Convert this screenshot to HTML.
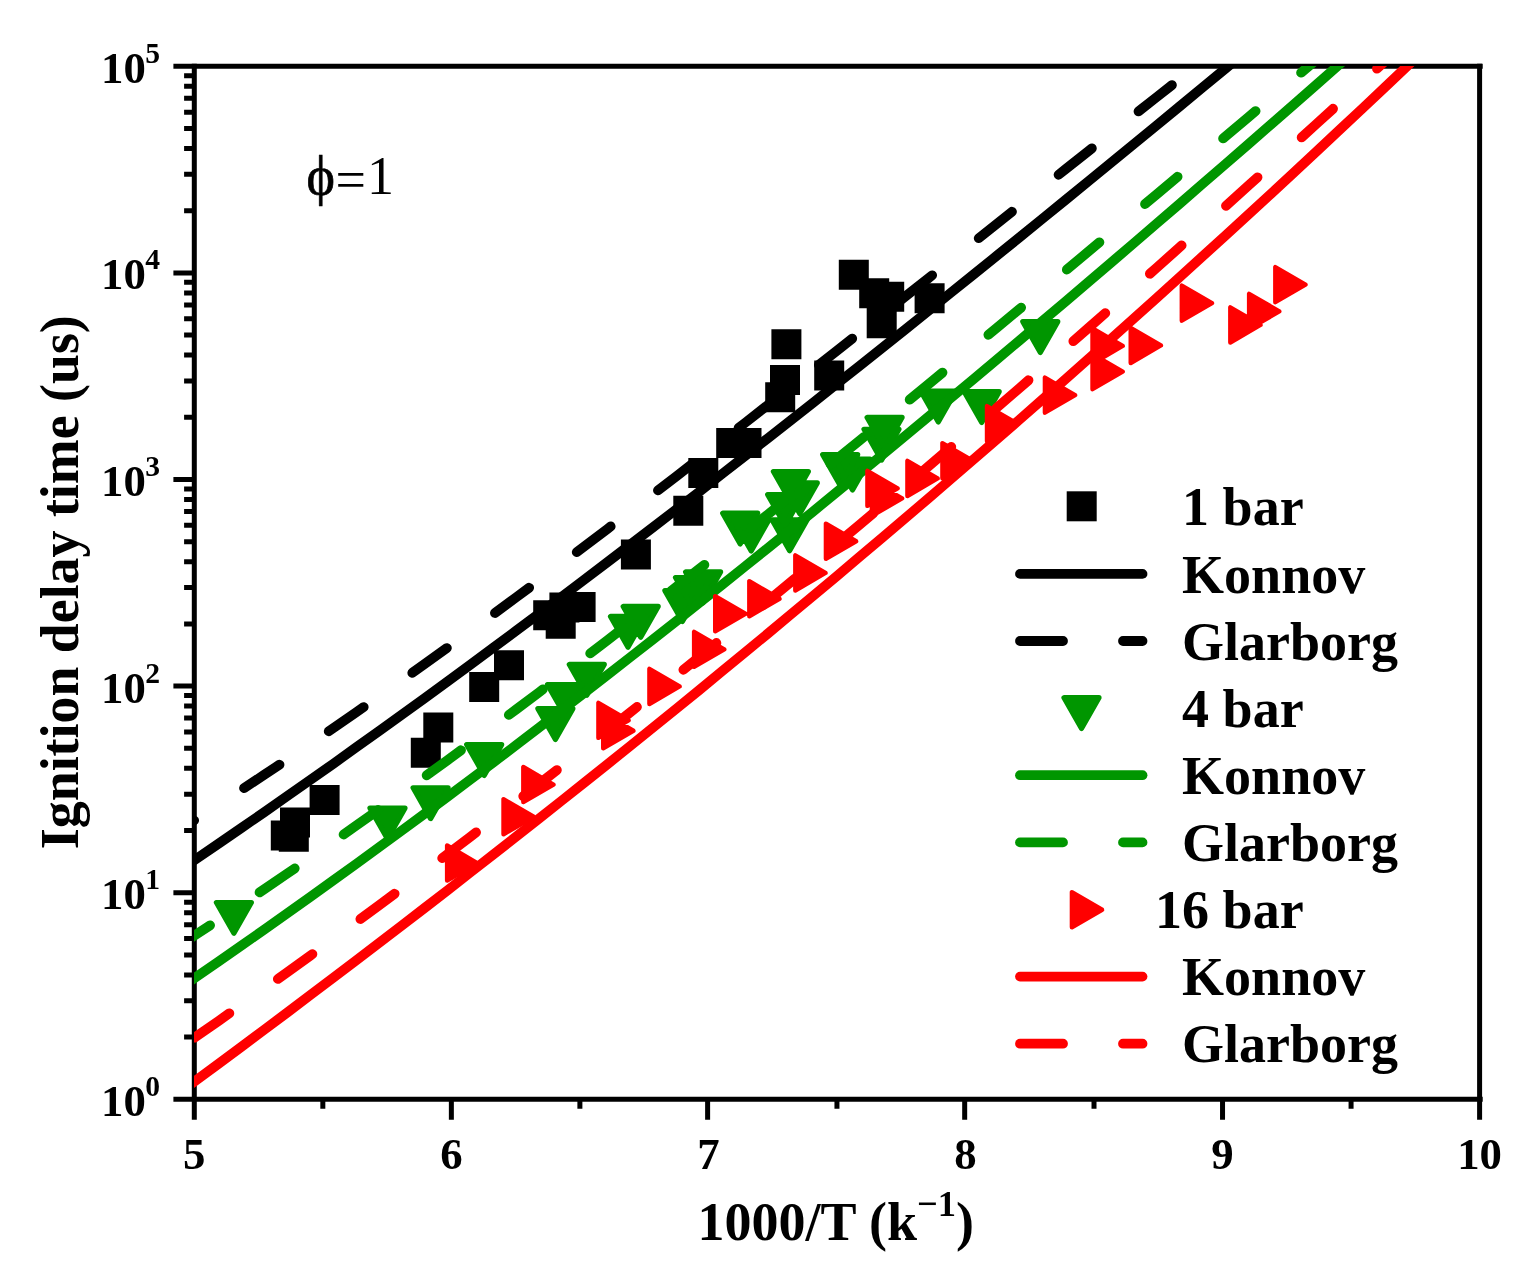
<!DOCTYPE html>
<html><head><meta charset="utf-8"><title>Ignition delay time</title>
<style>html,body{margin:0;padding:0;background:#fff}svg{display:block}</style></head>
<body>
<svg width="1532" height="1279" viewBox="0 0 1532 1279" font-family="'Liberation Serif', serif">
<rect width="1532" height="1279" fill="#fff"/>
<defs><clipPath id="cp"><rect x="194.0" y="66.0" width="1285.6" height="1033.3"/></clipPath></defs>
<g stroke="#000" stroke-width="5" fill="none" stroke-linecap="butt">
<path d="M173.4 66.3H1482.6999999999998"/>
<path d="M173.4 1099.3H1482.6999999999998"/>
<path d="M194.3 63.8V1119.8"/>
<path d="M1479.6 63.8V1119.8"/>
<path d="M451.36 1099.3v20.5M707.62 1099.3v20.5M964.68 1099.3v20.5M1222.54 1099.3v20.5M322.83 1099.3v9.4M579.89 1099.3v9.4M836.95 1099.3v9.4M1094.01 1099.3v9.4M1351.07 1099.3v9.4"/>
<path d="M194.3 1037.11h-10.2M194.3 1000.73h-10.2M194.3 974.91h-10.2M194.3 954.89h-10.2M194.3 938.53h-10.2M194.3 924.70h-10.2M194.3 912.72h-10.2M194.3 902.15h-10.2M194.3 892.70h-20.9M194.3 830.51h-10.2M194.3 794.13h-10.2M194.3 768.31h-10.2M194.3 748.29h-10.2M194.3 731.93h-10.2M194.3 718.10h-10.2M194.3 706.12h-10.2M194.3 695.55h-10.2M194.3 686.10h-20.9M194.3 623.91h-10.2M194.3 587.53h-10.2M194.3 561.71h-10.2M194.3 541.69h-10.2M194.3 525.33h-10.2M194.3 511.50h-10.2M194.3 499.52h-10.2M194.3 488.95h-10.2M194.3 479.50h-20.9M194.3 417.31h-10.2M194.3 380.93h-10.2M194.3 355.11h-10.2M194.3 335.09h-10.2M194.3 318.73h-10.2M194.3 304.90h-10.2M194.3 292.92h-10.2M194.3 282.35h-10.2M194.3 272.90h-20.9M194.3 210.71h-10.2M194.3 174.33h-10.2M194.3 148.51h-10.2M194.3 128.49h-10.2M194.3 112.13h-10.2M194.3 98.30h-10.2M194.3 86.32h-10.2M194.3 75.75h-10.2"/>
</g>
<g clip-path="url(#cp)">
<path d="M270.8 820.4h30v30h-30zM280.0 807.5h30v30h-30zM278.8 821.7h30v30h-30zM309.6 785.0h30v30h-30zM410.8 737.8h30v30h-30zM423.3 712.5h30v30h-30zM469.2 672.0h30v30h-30zM494.0 650.3h30v30h-30zM533.2 600.3h30v30h-30zM545.7 608.7h30v30h-30zM549.4 592.4h30v30h-30zM565.6 592.0h30v30h-30zM620.9 539.5h30v30h-30zM673.3 495.8h30v30h-30zM688.3 458.0h30v30h-30zM716.2 428.0h30v30h-30zM731.5 428.0h30v30h-30zM765.2 382.3h30v30h-30zM770.0 365.0h30v30h-30zM771.4 329.2h30v30h-30zM814.2 360.4h30v30h-30zM838.8 259.7h30v30h-30zM859.2 278.3h30v30h-30zM874.2 281.7h30v30h-30zM866.7 308.3h30v30h-30zM914.6 283.2h30v30h-30z" fill="#000"/>
<path d="M150.0 890.0 L172.9 874.7 L195.8 859.2 L218.6 843.6 L241.5 827.9 L264.4 812.1 L287.3 796.1 L310.2 780.1 L333.1 763.9 L355.9 747.6 L378.8 731.3 L401.7 714.8 L424.6 698.2 L447.5 681.5 L470.3 664.7 L493.2 647.8 L516.1 630.8 L539.0 613.7 L561.9 596.6 L584.7 579.3 L607.6 562.0 L630.5 544.5 L653.4 527.0 L676.3 509.4 L699.2 491.8 L722.0 474.0 L744.9 456.2 L767.8 438.3 L790.7 420.3 L813.6 402.3 L836.4 384.2 L859.3 366.1 L882.2 347.8 L905.1 329.6 L928.0 311.2 L950.8 292.8 L973.7 274.4 L996.6 255.9 L1019.5 237.4 L1042.4 218.8 L1065.3 200.1 L1088.1 181.5 L1111.0 162.7 L1133.9 144.0 L1156.8 125.2 L1179.7 106.4 L1202.5 87.5 L1225.4 68.6 L1248.3 49.7 L1271.2 30.8 L1294.1 11.8 L1316.9 -7.1 L1339.8 -26.1 L1362.7 -45.2 L1385.6 -64.2 L1408.5 -83.2 L1431.4 -102.3 L1454.2 -121.3 L1477.1 -140.4 L1500.0 -159.5" stroke="#000" stroke-width="9.8" fill="none" stroke-linecap="round" stroke-linejoin="round"/>
<path d="M150.0 848.2 L172.9 833.9 L195.8 819.4 L218.6 804.7 L241.5 789.8 L264.4 774.7 L287.3 759.5 L310.2 744.0 L333.1 728.3 L355.9 712.5 L378.8 696.5 L401.7 680.4 L424.6 664.1 L447.5 647.6 L470.3 631.0 L493.2 614.3 L516.1 597.4 L539.0 580.4 L561.9 563.3 L584.7 546.1 L607.6 528.8 L630.5 511.4 L653.4 493.9 L676.3 476.3 L699.2 458.6 L722.0 440.8 L744.9 423.0 L767.8 405.1 L790.7 387.1 L813.6 369.1 L836.4 351.1 L859.3 333.0 L882.2 314.9 L905.1 296.7 L928.0 278.6 L950.8 260.4 L973.7 242.2 L996.6 224.0 L1019.5 205.8 L1042.4 187.6 L1065.3 169.4 L1088.1 151.3 L1111.0 133.2 L1133.9 115.1 L1156.8 97.0 L1179.7 79.0 L1202.5 61.1 L1225.4 43.2 L1248.3 25.3 L1271.2 7.6 L1294.1 -10.1 L1316.9 -27.7 L1339.8 -45.2 L1362.7 -62.7 L1385.6 -80.0 L1408.5 -97.2 L1431.4 -114.3 L1454.2 -131.3 L1477.1 -148.2 L1500.0 -164.9" stroke="#000" stroke-width="9.8" fill="none" stroke-linecap="round" stroke-linejoin="round" stroke-dasharray="42.5 59.5" stroke-dashoffset="92.4"/>
<path d="M216.4 902.5h35.0l-17.5 30.8zM370.0 808.1h35.0l-17.5 30.8zM413.1 787.8h35.0l-17.5 30.8zM466.7 744.6h35.0l-17.5 30.8zM537.9 708.6h35.0l-17.5 30.8zM547.5 684.6h35.0l-17.5 30.8zM569.3 664.4h35.0l-17.5 30.8zM610.5 616.4h35.0l-17.5 30.8zM623.2 606.4h35.0l-17.5 30.8zM664.9 590.6h35.0l-17.5 30.8zM675.5 577.5h35.0l-17.5 30.8zM685.6 571.9h35.0l-17.5 30.8zM722.7 513.2h35.0l-17.5 30.8zM733.7 520.1h35.0l-17.5 30.8zM767.7 494.6h35.0l-17.5 30.8zM773.4 471.5h35.0l-17.5 30.8zM782.3 482.9h35.0l-17.5 30.8zM772.1 519.9h35.0l-17.5 30.8zM822.7 454.6h35.0l-17.5 30.8zM835.0 459.1h35.0l-17.5 30.8zM867.1 417.4h35.0l-17.5 30.8zM864.0 429.3h35.0l-17.5 30.8zM920.8 391.1h35.0l-17.5 30.8zM964.2 391.6h35.0l-17.5 30.8zM1022.8 321.6h35.0l-17.5 30.8z" fill="#009600" stroke="#009600" stroke-width="5.2" stroke-linejoin="round"/>
<path d="M150.0 1008.5 L172.9 992.9 L195.8 977.3 L218.6 961.5 L241.5 945.5 L264.4 929.5 L287.3 913.3 L310.2 897.0 L333.1 880.6 L355.9 864.1 L378.8 847.4 L401.7 830.6 L424.6 813.8 L447.5 796.8 L470.3 779.7 L493.2 762.5 L516.1 745.2 L539.0 727.7 L561.9 710.2 L584.7 692.6 L607.6 674.9 L630.5 657.0 L653.4 639.1 L676.3 621.1 L699.2 603.0 L722.0 584.8 L744.9 566.5 L767.8 548.1 L790.7 529.6 L813.6 511.1 L836.4 492.4 L859.3 473.7 L882.2 454.9 L905.1 436.0 L928.0 417.0 L950.8 398.0 L973.7 378.9 L996.6 359.7 L1019.5 340.4 L1042.4 321.1 L1065.3 301.7 L1088.1 282.2 L1111.0 262.7 L1133.9 243.1 L1156.8 223.4 L1179.7 203.7 L1202.5 183.9 L1225.4 164.1 L1248.3 144.2 L1271.2 124.3 L1294.1 104.3 L1316.9 84.2 L1339.8 64.1 L1362.7 44.0 L1385.6 23.8 L1408.5 3.6 L1431.4 -16.7 L1454.2 -37.0 L1477.1 -57.4 L1500.0 -77.8" stroke="#009600" stroke-width="9.8" fill="none" stroke-linecap="round" stroke-linejoin="round"/>
<path d="M150.0 964.3 L172.9 949.6 L195.8 934.7 L218.6 919.7 L241.5 904.5 L264.4 889.1 L287.3 873.5 L310.2 857.8 L333.1 841.9 L355.9 825.8 L378.8 809.6 L401.7 793.3 L424.6 776.8 L447.5 760.2 L470.3 743.4 L493.2 726.5 L516.1 709.5 L539.0 692.3 L561.9 675.0 L584.7 657.6 L607.6 640.1 L630.5 622.4 L653.4 604.7 L676.3 586.9 L699.2 568.9 L722.0 550.9 L744.9 532.7 L767.8 514.5 L790.7 496.2 L813.6 477.8 L836.4 459.3 L859.3 440.7 L882.2 422.1 L905.1 403.4 L928.0 384.6 L950.8 365.8 L973.7 346.9 L996.6 328.0 L1019.5 309.0 L1042.4 290.0 L1065.3 270.9 L1088.1 251.8 L1111.0 232.6 L1133.9 213.4 L1156.8 194.2 L1179.7 175.0 L1202.5 155.7 L1225.4 136.5 L1248.3 117.2 L1271.2 97.9 L1294.1 78.6 L1316.9 59.3 L1339.8 40.0 L1362.7 20.7 L1385.6 1.4 L1408.5 -17.9 L1431.4 -37.2 L1454.2 -56.4 L1477.1 -75.6 L1500.0 -94.8" stroke="#009600" stroke-width="9.8" fill="none" stroke-linecap="round" stroke-linejoin="round" stroke-dasharray="42.5 59.5" stroke-dashoffset="72.9"/>
<path d="M1275.3 267.1v35.1l30.2 -17.55zM1249.1 293.8v35.1l30.2 -17.55zM1230.3 307.4v35.1l30.2 -17.55zM1181.8 285.6v35.1l30.2 -17.55zM1130.7 327.9v35.1l30.2 -17.55zM1092.5 328.4v35.1l30.2 -17.55zM1092.5 354.1v35.1l30.2 -17.55zM1044.9 377.6v35.1l30.2 -17.55zM987.0 406.1v35.1l30.2 -17.55zM942.4 443.2v35.1l30.2 -17.55zM907.4 460.9v35.1l30.2 -17.55zM867.4 470.8v35.1l30.2 -17.55zM871.9 480.8v35.1l30.2 -17.55zM825.9 523.7v35.1l30.2 -17.55zM795.3 555.4v35.1l30.2 -17.55zM749.3 581.2v35.1l30.2 -17.55zM715.2 596.2v35.1l30.2 -17.55zM694.1 631.8v35.1l30.2 -17.55zM649.4 668.9v35.1l30.2 -17.55zM598.4 702.8v35.1l30.2 -17.55zM603.2 713.2v35.1l30.2 -17.55zM523.3 767.0v35.1l30.2 -17.55zM503.5 799.2v35.1l30.2 -17.55zM447.1 845.5v35.1l30.2 -17.55z" fill="#ff0000" stroke="#ff0000" stroke-width="4.4" stroke-linejoin="round"/>
<path d="M150.0 1114.2 L172.9 1097.4 L195.8 1080.6 L218.6 1063.7 L241.5 1046.7 L264.4 1029.6 L287.3 1012.5 L310.2 995.2 L333.1 977.9 L355.9 960.6 L378.8 943.1 L401.7 925.6 L424.6 908.0 L447.5 890.3 L470.3 872.5 L493.2 854.6 L516.1 836.7 L539.0 818.6 L561.9 800.5 L584.7 782.3 L607.6 764.1 L630.5 745.7 L653.4 727.2 L676.3 708.7 L699.2 690.1 L722.0 671.3 L744.9 652.5 L767.8 633.6 L790.7 614.6 L813.6 595.6 L836.4 576.4 L859.3 557.1 L882.2 537.7 L905.1 518.3 L928.0 498.7 L950.8 479.1 L973.7 459.3 L996.6 439.5 L1019.5 419.6 L1042.4 399.5 L1065.3 379.4 L1088.1 359.1 L1111.0 338.8 L1133.9 318.4 L1156.8 297.8 L1179.7 277.2 L1202.5 256.4 L1225.4 235.6 L1248.3 214.6 L1271.2 193.6 L1294.1 172.4 L1316.9 151.1 L1339.8 129.7 L1362.7 108.2 L1385.6 86.6 L1408.5 64.9 L1431.4 43.1 L1454.2 21.2 L1477.1 -0.9 L1500.0 -23.0" stroke="#ff0000" stroke-width="9.8" fill="none" stroke-linecap="round" stroke-linejoin="round"/>
<path d="M150.0 1068.3 L172.9 1052.6 L195.8 1036.8 L218.6 1020.9 L241.5 1004.8 L264.4 988.5 L287.3 972.2 L310.2 955.7 L333.1 939.1 L355.9 922.3 L378.8 905.5 L401.7 888.5 L424.6 871.4 L447.5 854.1 L470.3 836.8 L493.2 819.3 L516.1 801.7 L539.0 784.0 L561.9 766.2 L584.7 748.3 L607.6 730.3 L630.5 712.1 L653.4 693.9 L676.3 675.5 L699.2 657.0 L722.0 638.4 L744.9 619.8 L767.8 601.0 L790.7 582.1 L813.6 563.1 L836.4 544.1 L859.3 524.9 L882.2 505.6 L905.1 486.3 L928.0 466.8 L950.8 447.3 L973.7 427.7 L996.6 407.9 L1019.5 388.1 L1042.4 368.2 L1065.3 348.3 L1088.1 328.2 L1111.0 308.1 L1133.9 287.9 L1156.8 267.6 L1179.7 247.2 L1202.5 226.8 L1225.4 206.3 L1248.3 185.7 L1271.2 165.0 L1294.1 144.3 L1316.9 123.5 L1339.8 102.6 L1362.7 81.7 L1385.6 60.7 L1408.5 39.7 L1431.4 18.5 L1454.2 -2.6 L1477.1 -23.9 L1500.0 -45.2" stroke="#ff0000" stroke-width="9.8" fill="none" stroke-linecap="round" stroke-linejoin="round" stroke-dasharray="42.5 59.5" stroke-dashoffset="48.0"/>
</g>
<rect x="1066.7" y="491.3" width="30" height="30" fill="#000"/>
<text x="1182.1" y="525.4" font-size="54" font-weight="bold">1 bar</text>
<path d="M1020 573.9H1142.5" stroke="#000" stroke-width="9.8" stroke-linecap="round"/>
<text x="1182.1" y="592.5" font-size="54" font-weight="bold">Konnov</text>
<path d="M1020 641.0H1142.5" stroke="#000" stroke-width="9.8" stroke-linecap="round" stroke-dasharray="43 60"/>
<text x="1182.1" y="659.6" font-size="54" font-weight="bold">Glarborg</text>
<path d="M1064.0 697.7h35.0l-17.5 30.8z" fill="#009600" stroke="#009600" stroke-width="5.2" stroke-linejoin="round"/>
<text x="1182.1" y="726.7" font-size="54" font-weight="bold">4 bar</text>
<path d="M1020 775.2H1142.5" stroke="#009600" stroke-width="9.8" stroke-linecap="round"/>
<text x="1182.1" y="793.8" font-size="54" font-weight="bold">Konnov</text>
<path d="M1020 842.4H1142.5" stroke="#009600" stroke-width="9.8" stroke-linecap="round" stroke-dasharray="43 60"/>
<text x="1182.1" y="861.0" font-size="54" font-weight="bold">Glarborg</text>
<path d="M1071.9 892.2v35.1l30.2 -17.55z" fill="#ff0000" stroke="#ff0000" stroke-width="4.4" stroke-linejoin="round"/>
<text x="1155.1" y="928.1" font-size="54" font-weight="bold">16 bar</text>
<path d="M1020 976.6H1142.5" stroke="#ff0000" stroke-width="9.8" stroke-linecap="round"/>
<text x="1182.1" y="995.2" font-size="54" font-weight="bold">Konnov</text>
<path d="M1020 1043.7H1142.5" stroke="#ff0000" stroke-width="9.8" stroke-linecap="round" stroke-dasharray="43 60"/>
<text x="1182.1" y="1062.3" font-size="54" font-weight="bold">Glarborg</text>
<text x="194.3" y="1168.8" font-size="44.8" font-weight="bold" text-anchor="middle">5</text>
<text x="451.4" y="1168.8" font-size="44.8" font-weight="bold" text-anchor="middle">6</text>
<text x="708.4" y="1168.8" font-size="44.8" font-weight="bold" text-anchor="middle">7</text>
<text x="965.5" y="1168.8" font-size="44.8" font-weight="bold" text-anchor="middle">8</text>
<text x="1222.5" y="1168.8" font-size="44.8" font-weight="bold" text-anchor="middle">9</text>
<text x="1479.6" y="1168.8" font-size="44.8" font-weight="bold" text-anchor="middle">10</text>
<text x="101" y="1115.8" font-size="44.8" font-weight="bold">10<tspan font-size="29.6" dx="-0.5" dy="-20">0</tspan></text>
<text x="101" y="909.2" font-size="44.8" font-weight="bold">10<tspan font-size="29.6" dx="-0.5" dy="-20">1</tspan></text>
<text x="101" y="702.6" font-size="44.8" font-weight="bold">10<tspan font-size="29.6" dx="-0.5" dy="-20">2</tspan></text>
<text x="101" y="496.0" font-size="44.8" font-weight="bold">10<tspan font-size="29.6" dx="-0.5" dy="-20">3</tspan></text>
<text x="101" y="289.4" font-size="44.8" font-weight="bold">10<tspan font-size="29.6" dx="-0.5" dy="-20">4</tspan></text>
<text x="101" y="82.8" font-size="44.8" font-weight="bold">10<tspan font-size="29.6" dx="-0.5" dy="-20">5</tspan></text>
<text x="835.7" y="1240.2" font-size="54" font-weight="bold" text-anchor="middle">1000/T (k<tspan font-size="36.5" dy="-23.8">−1</tspan><tspan dy="23.8">)</tspan></text>
<text transform="translate(78.2 582.2) rotate(-90)" font-size="53.85" font-weight="bold" text-anchor="middle">Ignition delay time (us)</text>
<text x="306.5" y="194" font-size="54"><tspan stroke="#000" stroke-width="0.7">ϕ</tspan><tspan dx="0.5" dy="3.6">=</tspan><tspan dx="1" dy="-3.6">1</tspan></text>
</svg>
</body></html>
